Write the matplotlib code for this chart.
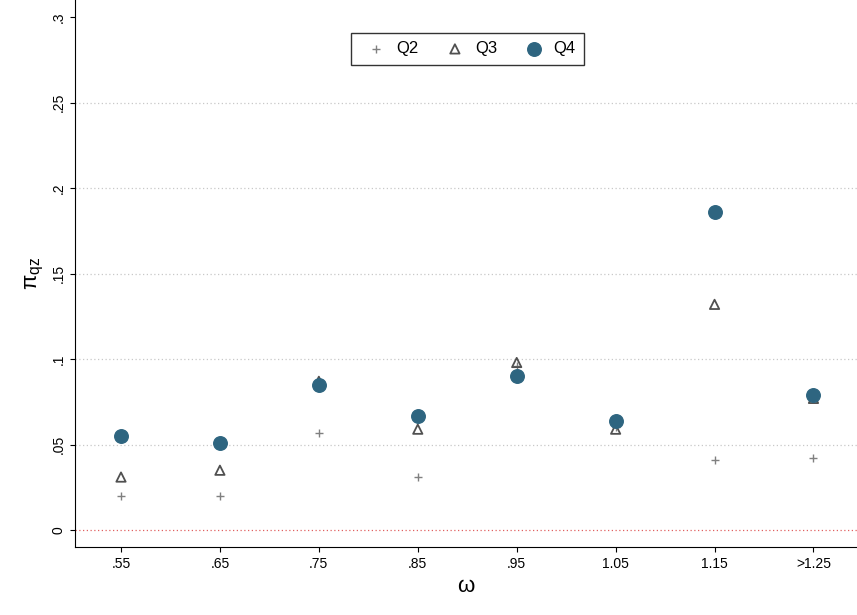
import matplotlib
matplotlib.use("Agg")
import matplotlib.pyplot as plt
plt.rcParams['font.family'] = ['Liberation Sans', 'DejaVu Sans']

cats = [".55", ".65", ".75", ".85", ".95", "1.05", "1.15", ">1.25"]
q2 = [0.020, 0.020, 0.057, 0.031, 0.096, 0.060, 0.041, 0.042]
q3 = [0.031, 0.035, 0.087, 0.059, 0.098, 0.059, 0.132, 0.077]
q4 = [0.055, 0.051, 0.085, 0.067, 0.090, 0.064, 0.186, 0.079]
yt = [0, 0.05, 0.1, 0.15, 0.2, 0.25, 0.3]
ytl = ["0", ".05", ".1", ".15", ".2", ".25", ".3"]

fig = plt.figure(figsize=(8.57, 6.15), dpi=100)
ax = fig.add_axes([75/857, (615-547)/615, 782/857, 547/615])
x = list(range(len(cats)))
ax.scatter(x, q2, marker="+", s=30, color="#808080", linewidths=1, label="Q2", zorder=3)
ax.scatter(x, q3, marker="^", s=45, facecolors="none", edgecolors="#505050", linewidths=1.3, label="Q3", zorder=3)
ax.scatter(x, q4, marker="o", s=95, color="#2e6580", label="Q4", zorder=4)
for v in yt[1:-1]:
    ax.axhline(v, color="#c8c8c8", linestyle=(0, (1, 2)), linewidth=0.9, zorder=1)
ax.axhline(0, color="#e06060", linestyle=(0, (1, 2)), linewidth=0.9, zorder=1)
ax.set_xlim(-0.465, 7.44)
ax.set_ylim(-0.0099, 0.31)
ax.set_xticks(x)
ax.set_xticklabels(cats, fontsize=10)
ax.set_yticks(yt)
ax.set_yticklabels(ytl, rotation=90, va="center", fontsize=10)
for s in ["top", "right"]:
    ax.spines[s].set_visible(False)
ax.set_xlabel("ω", fontsize=16)
ax.set_ylabel("π$_{\\mathregular{qz}}$", fontsize=16)
leg = ax.legend(loc="upper center", bbox_to_anchor=(0.502, 0.955), ncol=3, fontsize=12,
                frameon=True, fancybox=False, edgecolor="black", handletextpad=0.2,
                columnspacing=1.2, borderpad=0.5)
leg.get_frame().set_linewidth(1)
fig.savefig("out.png", dpi=100)
